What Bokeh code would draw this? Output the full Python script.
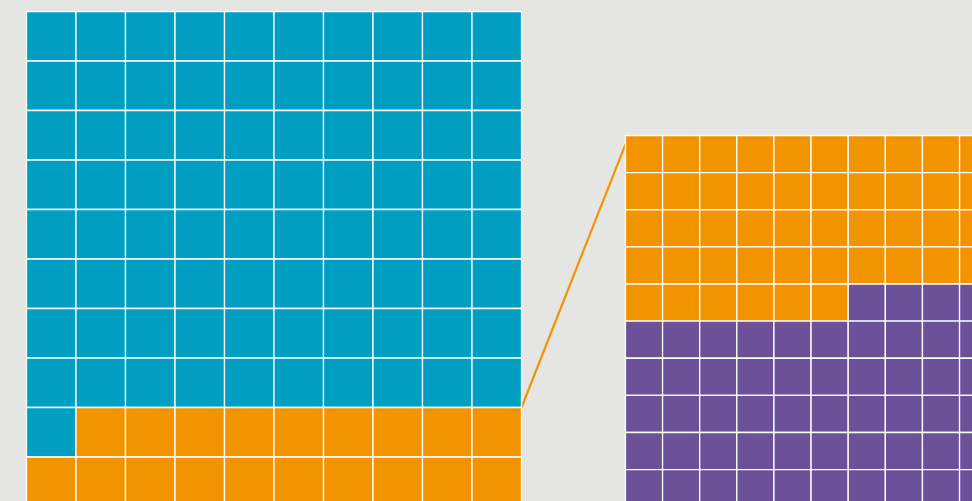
import numpy as np
from bokeh.plotting import figure
from bokeh.models import Range1d, ColumnDataSource
from bokeh.embed import file_html
from bokeh.resources import INLINE

# ---- data ----
left_categories = ["Teal", "Orange"]
left_counts = [81, 19]
right_categories = ["Orange", "Purple"]
right_counts = [46, 54]
colors = {"Teal": "#009EC1", "Orange": "#F29400", "Purple": "#6C5199"}
BG = "#E5E5E3"

# ---- layout (units: one left cell) ----
ncols = 10
left_x0, left_y0, left_cell = 0.0, 0.0, 1.0
right_x0, right_y0, right_cell = 12.10, 2.505, 0.75
PX = 49.5  # pixels per unit


def waffle(cats, counts, x0, y0, cell):
    xs, ys, cs = [], [], []
    i = 0
    for c, n in zip(cats, counts):
        for _ in range(n):
            r, col = divmod(i, ncols)
            xs.append(x0 + (col + 0.5) * cell)
            ys.append(y0 + (r + 0.5) * cell)
            cs.append(colors[c])
            i += 1
    return dict(x=xs, y=ys, c=cs)


W, H = 972, 501
xstart = -26 / PX
ytop = -11 / PX
x_range = Range1d(xstart, xstart + W / PX)
y_range = Range1d(ytop + H / PX, ytop)

p = figure(width=W, height=H, x_range=x_range, y_range=y_range,
           output_backend="svg", toolbar_location=None, min_border=0)
p.axis.visible = False
p.grid.visible = False
p.outline_line_color = None
p.background_fill_color = BG
p.border_fill_color = BG

# connector line: from top-right of the orange part in the left grid to the right grid
first_orange = left_counts[0]
conn_row = first_orange // ncols
p.line([left_x0 + ncols * left_cell, right_x0],
       [left_y0 + conn_row * left_cell, right_y0 + 0.24 * right_cell],
       line_color=colors["Orange"], line_width=2.2)

L = ColumnDataSource(waffle(left_categories, left_counts, left_x0, left_y0, left_cell))
p.rect("x", "y", width=left_cell, height=left_cell, source=L,
       fill_color="c", line_color="white", line_width=1.3)

R = ColumnDataSource(waffle(right_categories, right_counts, right_x0, right_y0, right_cell))
p.rect("x", "y", width=right_cell, height=right_cell, source=R,
       fill_color="c", line_color="white", line_width=1.3)

html = file_html(p, INLINE)
html = html.replace("</head>", "<style>body{background:#E5E5E3;}</style></head>", 1)
open("out.html", "w").write(html)
